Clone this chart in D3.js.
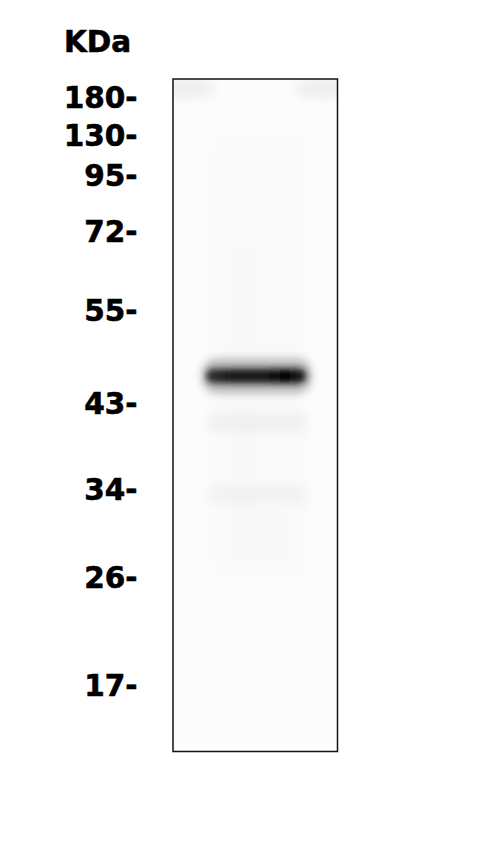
<!DOCTYPE html>
<html>
<head>
<meta charset="utf-8">
<script src="https://cdn.jsdelivr.net/npm/d3@7"></script>
<style>
  body { margin: 0; background: #fff; }
  .mw text, .unit { font-family: "DejaVu Sans", Verdana, sans-serif; font-weight: bold; font-size: 29.5px; fill: #000; stroke: #000; stroke-width: 0.6px; }
</style>
</head>
<body>
<svg width="500" height="866"></svg>
<script>
// marker ladder (kDa) and where each one ran in the lane (fraction of lane height)
const markerKDa = [180, 130, 95, 72, 55, 43, 34, 26, 17];
const markerRf = [0.027, 0.083, 0.143, 0.226, 0.343, 0.482, 0.610, 0.741, 0.901];

// bands seen in the single lane, by apparent size, and how dark they are
const bandKDa = [46.2, 40.8, 33.4];
const bandDark = [1, 0.03, 0.025];

const unitLabel = 'KDa';

const svg = d3.select('svg');

const lane = {left: 173, right: 337.5, top: 79, bottom: 751.5};
const laneW = lane.right - lane.left;
const laneH = lane.bottom - lane.top;

// piecewise log scale through the marker ladder
const yScale = d3.scaleLog()
    .domain(markerKDa)
    .range(markerRf.map(r => lane.top + r * laneH));

const defs = svg.append('defs');
const blur = (id, sd) => defs.append('filter')
    .attr('id', id)
    .attr('x', '-50%').attr('y', '-200%')
    .attr('width', '200%').attr('height', '500%')
    .append('feGaussianBlur').attr('stdDeviation', sd);
blur('b3', 3);
blur('b5', 5);
blur('b9', 9);

const grad = defs.append('linearGradient')
    .attr('id', 'bandGrad')
    .attr('x1', 0).attr('x2', 1).attr('y1', 0).attr('y2', 0);
grad.selectAll('stop')
    .data([[0, '#333'], [0.3, '#151515'], [0.55, '#1a1a1a'], [0.8, '#000'], [1, '#222']])
    .join('stop')
    .attr('offset', d => d[0])
    .attr('stop-color', d => d[1]);

defs.append('clipPath').attr('id', 'laneClip')
    .append('rect')
    .attr('x', lane.left).attr('y', lane.top)
    .attr('width', laneW).attr('height', laneH);

// lane background
const g = svg.append('g').attr('clip-path', 'url(#laneClip)');
g.append('rect')
    .attr('x', lane.left).attr('y', lane.top)
    .attr('width', laneW).attr('height', laneH)
    .attr('fill', '#fcfcfc');

// faint haze at the top corners of the lane
g.selectAll('ellipse.haze')
    .data([0.08, 0.92])
    .join('ellipse')
    .attr('class', 'haze')
    .attr('cx', f => lane.left + f * laneW)
    .attr('cy', lane.top + 10)
    .attr('rx', 30).attr('ry', 10)
    .attr('fill', '#000').attr('opacity', 0.05)
    .attr('filter', 'url(#b5)');

// faint smear down the lane centre
g.append('rect')
    .attr('x', lane.left + laneW * 0.25).attr('y', yScale(130))
    .attr('width', laneW * 0.55).attr('height', yScale(26) - yScale(130))
    .attr('fill', '#000').attr('opacity', 0.01)
    .attr('filter', 'url(#b9)');

// weak bands
g.selectAll('rect.weak')
    .data(bandKDa.slice(1).map((k, i) => ({k, dark: bandDark[i + 1]})))
    .join('rect')
    .attr('class', 'weak')
    .attr('x', lane.left + laneW * 0.2)
    .attr('y', d => yScale(d.k) - 10)
    .attr('width', laneW * 0.62)
    .attr('height', 20)
    .attr('fill', '#000')
    .attr('opacity', d => d.dark)
    .attr('filter', 'url(#b5)');

// main band: halo + dark core
const main = {k: bandKDa[0], dark: bandDark[0]};
g.append('rect')
    .attr('x', lane.left + laneW * 0.18)
    .attr('y', yScale(main.k) - 17)
    .attr('width', laneW * 0.66)
    .attr('height', 34)
    .attr('rx', 14)
    .attr('fill', '#000')
    .attr('opacity', 0.28 * main.dark)
    .attr('filter', 'url(#b5)');
g.append('rect')
    .attr('x', lane.left + laneW * 0.2)
    .attr('y', yScale(main.k) - 7)
    .attr('width', laneW * 0.61)
    .attr('height', 14)
    .attr('rx', 7)
    .attr('fill', 'url(#bandGrad)')
    .attr('opacity', main.dark)
    .attr('filter', 'url(#b3)');

// lane frame
svg.append('rect')
    .attr('x', lane.left).attr('y', lane.top)
    .attr('width', laneW).attr('height', laneH)
    .attr('fill', 'none')
    .attr('stroke', '#111')
    .attr('stroke-width', 1.5);

// marker labels
const axis = d3.axisLeft(yScale)
    .tickValues(markerKDa)
    .tickSize(0)
    .tickPadding(0)
    .tickFormat(d => d + '-');

const axisG = svg.append('g')
    .attr('class', 'mw')
    .attr('transform', 'translate(137.5,0)')
    .call(axis);
axisG.select('.domain').remove();
axisG.selectAll('text').attr('dy', '0.36em');
axisG.attr('font-family', null).attr('font-size', null);

svg.append('text')
    .attr('class', 'unit')
    .attr('x', 64)
    .attr('y', 51.5)
    .text(unitLabel);
</script>
</body>
</html>
